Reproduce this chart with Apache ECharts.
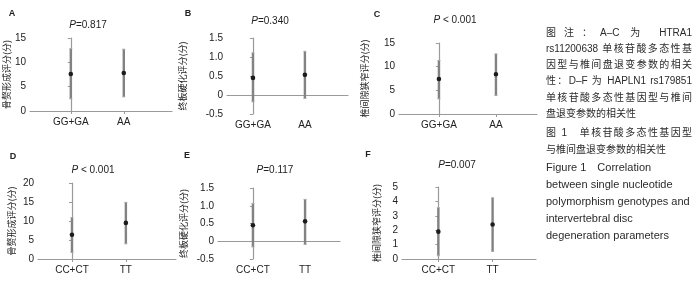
<!DOCTYPE html>
<html>
<head>
<meta charset="utf-8">
<script src="https://cdn.jsdelivr.net/npm/echarts@6/dist/echarts.min.js"></script>
<style>
  html, body { margin: 0; padding: 0; background: #fff; }
  #wrap { position: relative; width: 700px; height: 283px; }
  #chart { position: absolute; left: 0; top: 0; width: 700px; height: 283px; }
  .cap { position: absolute; left: 546px; width: 146px; line-height: 16px; height: 16px;
         white-space: nowrap; color: #2b2b2b;
         font-family: "Liberation Sans", "Noto Sans CJK SC", sans-serif; font-size: 10px; }
  .j { text-align: justify; text-align-last: justify; }
  .en { font-size: 11px; }
</style>
</head>
<body>
<div id="wrap">
  <div id="chart"></div>
  <div class="cap j" style="top:25px">图注：A–C 为 HTRA1</div>
  <div class="cap j" style="top:41px">rs11200638 单核苷酸多态性基</div>
  <div class="cap j" style="top:57px">因型与椎间盘退变参数的相关</div>
  <div class="cap j" style="top:73px">性：D–F 为 HAPLN1 rs179851</div>
  <div class="cap j" style="top:90px">单核苷酸多态性基因型与椎间</div>
  <div class="cap" style="top:106px">盘退变参数的相关性</div>
  <div class="cap j" style="top:125px">图 1　单核苷酸多态性基因型</div>
  <div class="cap" style="top:142px">与椎间盘退变参数的相关性</div>
  <div class="cap en" style="top:159px">Figure 1　Correlation</div>
  <div class="cap en" style="top:176px">between single nucleotide</div>
  <div class="cap en" style="top:193px">polymorphism genotypes and</div>
  <div class="cap en" style="top:210px">intervertebral disc</div>
  <div class="cap en" style="top:227px">degeneration parameters</div>
</div>
<script>
// panel data, A-C: HTRA1 rs11200638, D-F: HAPLN1 rs179851
const panelLetters = ['A', 'B', 'C', 'D', 'E', 'F'];
const pValues = ['=0.817', '=0.340', ' < 0.001', ' < 0.001', '=0.117', '=0.007'];
const yNames = ['骨赘形成评分(分)', '终板硬化评分(分)', '椎间隙狭窄评分(分)',
                '骨赘形成评分(分)', '终板硬化评分(分)', '椎间隙狭窄评分(分)'];
const groupsHTRA1 = ['GG+GA', 'AA'];
const groupsHAPLN1 = ['CC+CT', 'TT'];
const means = [[7.6, 7.8], [0.45, 0.53], [7.4, 8.4], [6.4, 9.5], [0.45, 0.56], [1.9, 2.4]];
const lows  = [[2.5, 2.9], [-0.18, -0.09], [3.2, 3.9], [1.7, 4.0], [-0.16, -0.09], [0.23, 0.52]];
const highs = [[12.8, 12.7], [1.11, 1.15], [11.3, 12.7], [10.9, 14.9], [1.06, 1.18], [3.56, 4.25]];
const yMin  = [0, -0.5, 0, 0, -0.5, 0];
const yMax  = [15, 1.5, 15, 20, 1.5, 5];
const yStep = [5, 0.5, 5, 5, 0.5, 1];

// layout (px)
const grids = [
  { left: 30, top: 38, width: 142, height: 73 },
  { left: 227, top: 38, width: 121, height: 76 },
  { left: 399, top: 43, width: 138, height: 71 },
  { left: 38, top: 183, width: 138, height: 76 },
  { left: 218, top: 188, width: 122, height: 71 },
  { left: 402, top: 187, width: 134, height: 72 }
];
const xRange = [[-0.77, 1.91], [-0.5, 1.83], [-0.7, 1.72], [-0.63, 1.93], [-0.67, 1.67], [-0.67, 1.8]];
const nameGaps = [15, 40, 30, 22, 30, 21];
const letterPos = [[12, 14], [188, 14], [377, 15], [13, 157], [187, 156], [368, 155]];
const titlePos = [[88, 25], [270, 21], [455, 20], [93, 170], [275, 170], [457, 165]];

const AXIS = '#9a9a9a';
const TXT = '#222';

const chart = echarts.init(document.getElementById('chart'));

const xAxes = [], yAxes = [], series = [], graphics = [];
grids.forEach((g, i) => {
  const groups = i < 3 ? groupsHTRA1 : groupsHAPLN1;
  xAxes.push({
    type: 'value', gridIndex: i, min: xRange[i][0], max: xRange[i][1],
    splitLine: { show: false },
    axisLine: { show: true, lineStyle: { color: AXIS, width: 1.2 } },
    axisTick: { show: true, length: 3, customValues: [0, 1], lineStyle: { color: AXIS } },
    axisLabel: {
      customValues: [0, 1], margin: 6, color: TXT, fontSize: 10,
      fontFamily: 'Liberation Sans', formatter: v => groups[Math.round(v)]
    }
  });
  yAxes.push({
    type: 'value', gridIndex: i, min: yMin[i], max: yMax[i], interval: yStep[i],
    splitLine: { show: false },
    axisLine: { show: true, lineStyle: { color: AXIS, width: 1.2 } },
    axisTick: { show: true, length: 3, lineStyle: { color: AXIS } },
    axisLabel: {
      margin: 4, color: TXT, fontSize: 10, fontFamily: 'Liberation Sans',
      formatter: v => (yStep[i] < 1 && v !== 0) ? v.toFixed(1) : String(v)
    },
    name: yNames[i], nameLocation: 'middle', nameRotate: 90, nameGap: nameGaps[i],
    nameTextStyle: { color: TXT, fontSize: 9, fontFamily: 'Noto Sans CJK SC' }
  });
  series.push({
    type: 'custom', xAxisIndex: i, yAxisIndex: i,
    encode: { x: 0, y: [1, 2, 3] },
    data: groups.map((_, k) => [k, lows[i][k], highs[i][k], means[i][k]]),
    renderItem(params, api) {
      const lo = api.coord([api.value(0), api.value(1)]);
      const hi = api.coord([api.value(0), api.value(2)]);
      const m = api.coord([api.value(0), api.value(3)]);
      return {
        type: 'group', children: [
          { type: 'line', shape: { x1: lo[0], y1: lo[1], x2: hi[0], y2: hi[1] },
            style: { stroke: '#828282', lineWidth: 2.4 } },
          { type: 'line', shape: { x1: lo[0] - 1.5, y1: lo[1], x2: lo[0] + 1.5, y2: lo[1] },
            style: { stroke: '#aaa', lineWidth: 1 } },
          { type: 'line', shape: { x1: hi[0] - 1.5, y1: hi[1], x2: hi[0] + 1.5, y2: hi[1] },
            style: { stroke: '#aaa', lineWidth: 1 } },
          { type: 'circle', shape: { cx: m[0], cy: m[1], r: 2.3 },
            style: { fill: '#1c1c1c' } }
        ]
      };
    }
  });
  graphics.push({
    type: 'text', x: letterPos[i][0], y: letterPos[i][1],
    style: { text: panelLetters[i], fill: TXT, font: 'bold 9px "Liberation Sans"',
             align: 'center', verticalAlign: 'middle' }
  });
  graphics.push({
    type: 'text', x: titlePos[i][0], y: titlePos[i][1],
    style: {
      text: '{i|P}{n|' + pValues[i] + '}', align: 'center', verticalAlign: 'middle',
      rich: {
        i: { fontStyle: 'italic', fontSize: 10, fontFamily: 'Liberation Sans', fill: TXT },
        n: { fontSize: 10, fontFamily: 'Liberation Sans', fill: TXT }
      }
    }
  });
});

chart.setOption({
  animation: false,
  grid: grids.map(g => Object.assign({ containLabel: false, outerBoundsMode: 'none' }, g)),
  xAxis: xAxes,
  yAxis: yAxes,
  series: series,
  graphic: graphics
});
</script>
</body>
</html>
